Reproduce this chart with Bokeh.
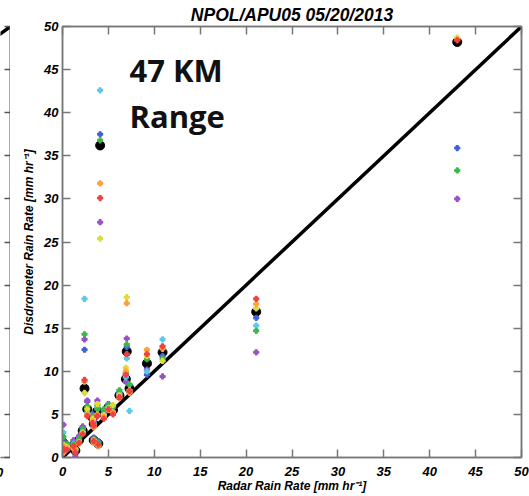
from bokeh.plotting import figure
from bokeh.models import ColumnDataSource, LinearAxis, Range1d, FixedTicker, Label
from bokeh.layouts import row
from bokeh.embed import file_html
from bokeh.resources import INLINE

# ---- data ----
radar = [0.1, 0.1, 0.5, 1.2, 1.4, 1.8, 2.2, 2.4, 2.7, 3.3, 3.4, 3.4, 3.8, 3.9,
         4.1, 4.5, 5.0, 5.5, 6.2, 6.9, 7.0, 7.3, 9.2, 10.9, 21.1, 43.0]
mean_disd = [0.8, 1.7, 1.2, 1.4, 0.8, 2.0, 3.1, 8.0, 5.6, 4.6, 3.9, 2.0, 5.4, 1.6,
             36.2, 5.1, 5.8, 5.5, 7.2, 9.1, 12.3, 8.0, 10.9, 12.2, 16.9, 48.2]
disd_blue = [1.0, 2.0, 1.5, 1.8, 0.5, 2.3, 3.4, 12.5, 6.5, 5.0, 4.2, 2.3, 6.1, 1.9,
             37.5, 5.5, 6.2, 5.8, 7.5, 9.5, 12.8, 8.4, 9.6, 11.8, 16.2, 35.9]
disd_purple = [0.5, 3.8, 1.0, 2.0, 0.1, 2.5, 3.6, 13.7, 6.6, 4.9, 4.3, 2.2, 6.6, 1.8,
               27.3, 5.3, 6.0, 5.2, 7.0, 8.8, 13.8, 7.6, 10.2, 9.4, 12.2, 30.0]
disd_cyan = [1.2, 2.9, 1.3, 1.6, 1.0, 2.1, 3.0, 18.4, 5.2, 4.4, 3.6, 1.8, 5.8, 1.5,
             42.6, 5.0, 5.9, 6.0, 7.4, 9.3, 11.5, 5.4, 10.0, 13.7, 15.3, 52.3]
disd_green = [0.9, 2.4, 1.6, 1.5, 0.9, 2.2, 3.3, 14.3, 5.9, 4.8, 4.0, 2.1, 5.6, 1.7,
              36.8, 5.6, 6.1, 5.9, 7.8, 9.8, 13.1, 8.5, 11.4, 11.5, 14.7, 33.3]
disd_yellow = [0.7, 1.5, 1.2, 1.2, 0.8, 1.8, 2.9, 7.5, 5.6, 4.5, 3.8, 2.0, 6.2, 1.4,
               25.4, 4.9, 5.7, 6.1, 7.2, 10.4, 18.6, 7.8, 11.8, 11.2, 17.3, 48.7]
disd_orange = [0.6, 1.3, 1.1, 1.0, 1.0, 1.6, 2.8, 8.8, 5.0, 4.2, 3.5, 1.7, 5.0, 1.3,
               31.8, 4.7, 5.5, 5.3, 6.9, 10.0, 17.9, 7.5, 12.5, 12.6, 17.8, 48.5]
disd_red = [0.8, 1.0, 0.9, 1.3, 0.6, 1.7, 2.7, 9.0, 4.8, 4.0, 3.7, 1.9, 4.8, 1.5,
            30.1, 4.5, 5.6, 5.0, 7.0, 9.6, 12.0, 7.7, 12.0, 12.9, 18.4, 48.4]
one_to_one = [0, 50]
ticks = [0, 5, 10, 15, 20, 25, 30, 35, 40, 45, 50]

series = [
    (disd_blue, "#3f5fd8"),
    (disd_purple, "#9a50c8"),
    (disd_cyan, "#5cc8f0"),
    (disd_green, "#3cb84a"),
    (disd_yellow, "#dede30"),
    (disd_orange, "#ffa040"),
    (disd_red, "#f04040"),
]

FONT = "Liberation Sans"
GRAY = "#777777"


def style_axis(ax, labels):
    ax.ticker = FixedTicker(ticks=ticks)
    ax.minor_tick_line_color = None
    ax.major_tick_in = 8
    ax.major_tick_out = 0
    ax.major_tick_line_color = GRAY
    ax.major_tick_line_width = 1.5
    ax.axis_line_color = GRAY
    ax.axis_line_width = 1.5
    ax.major_label_text_font = FONT
    ax.major_label_text_font_style = "bold italic"
    ax.major_label_text_font_size = "13px"
    ax.major_label_text_color = "black"
    ax.axis_label_text_font = FONT
    ax.axis_label_text_font_style = "bold italic"
    ax.axis_label_text_font_size = "12px"
    ax.axis_label_text_color = "black"
    if not labels:
        ax.major_label_overrides = {t: "" for t in ticks}
        ax.major_label_standoff = 0


# ---- sliver of the neighbouring panel on the left ----
q = figure(width=10, height=496, output_backend="svg", toolbar_location=None,
           x_range=Range1d(49.15, 50), y_range=Range1d(0, 50),
           min_border_left=0, min_border_right=0, min_border_top=25, min_border_bottom=39,
           x_axis_location=None, y_axis_location=None)
q.grid.visible = False
q.outline_line_color = None
q.border_fill_color = "white"
qr = LinearAxis()
style_axis(qr, False)
qr.major_tick_in = 6
qr.axis_line_color = "#555555"
qr.axis_line_width = 2
qr.major_tick_line_color = "#555555"
q.add_layout(qr, "right")
qb = LinearAxis()
style_axis(qb, True)
qb.major_tick_in = 0
qb.major_label_standoff = 10
q.add_layout(qb, "below")
q.line(one_to_one, one_to_one, line_color="black", line_width=3.5)

# ---- main panel ----
p = figure(width=519, height=496, output_backend="svg", toolbar_location=None,
           x_range=Range1d(0, 50), y_range=Range1d(0, 50),
           min_border_left=52, min_border_right=8, min_border_top=25, min_border_bottom=39,
           x_axis_location=None, y_axis_location=None)
p.grid.visible = False
p.outline_line_color = GRAY
p.outline_line_width = 1.5
p.background_fill_color = "white"
p.border_fill_color = "white"

p.title.text = "NPOL/APU05 05/20/2013"
p.title.text_font = FONT
p.title.text_font_style = "bold italic"
p.title.text_font_size = "17.5px"
p.title.text_color = "black"
p.title.align = "center"
p.title.offset = 0
p.title.standoff = 4

xb = LinearAxis(axis_label="Radar Rain Rate [mm hr⁻¹]")
style_axis(xb, True)
xb.major_label_standoff = 9
xb.axis_label_standoff = 0
p.add_layout(xb, "below")

yl = LinearAxis(axis_label="Disdrometer Rain Rate [mm hr⁻¹]")
style_axis(yl, True)
yl.major_label_standoff = 4
yl.axis_label_standoff = 5
p.add_layout(yl, "left")

xt = LinearAxis()
style_axis(xt, False)
p.add_layout(xt, "above")
yr = LinearAxis()
style_axis(yr, False)
p.add_layout(yr, "right")

# one-to-one line
p.line(one_to_one, one_to_one, line_color="black", line_width=3.5)

# mean (black) points
src = ColumnDataSource(dict(x=radar, y=mean_disd))
p.scatter("x", "y", source=src, size=9, fill_color="black", line_color="black")

# individual disdrometers
for vals, col in series:
    p.scatter(radar, vals, marker="plus", size=5, line_color=col, fill_color=col,
              line_width=1.2)

p.add_layout(Label(x=7.3, y=47.4, text="47 KM\nRange", text_font="Open Sans",
                   text_font_size="31px", text_font_style="bold", text_color="#111111",
                   text_baseline="top", text_line_height=1.1))

layout = row(q, p, spacing=0)
open("out.html", "w").write(file_html(layout, INLINE))
